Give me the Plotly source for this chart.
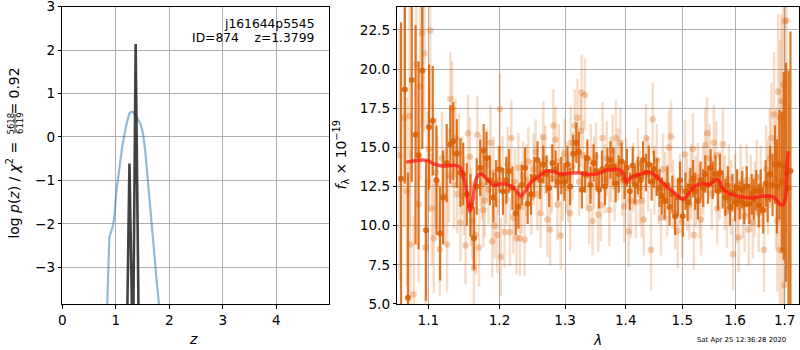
import plotly.graph_objects as go

FONT = "DejaVu Sans"

# ---------------- left panel: log p(z) ----------------
pz_z = [0.820, 0.838, 0.860, 0.880, 0.905, 0.930, 0.955, 0.980, 1.006, 1.050, 1.093,
        1.120, 1.155, 1.200, 1.255, 1.300, 1.330, 1.361, 1.410, 1.455, 1.490, 1.517,
        1.550, 1.580, 1.642, 1.704, 1.768, 1.811, 1.830]
pz_logp = [-4.6, -3.86, -2.90, -2.30, -2.20, -2.12, -1.99, -1.75, -1.30, -0.85, -0.38,
           -0.22, 0.01, 0.30, 0.545, 0.582, 0.570, 0.506, 0.420, 0.315, 0.180, 0.007,
           -0.32, -0.76, -1.53, -2.45, -3.37, -3.91, -4.6]

chi_z = [1.190, 1.217, 1.255, 1.300, 1.315, 1.330, 1.371, 1.423, 1.450]
chi_logp = [-5.0, -3.85, -0.61, -3.85, -3.70, -3.85, 2.14, -3.85, -5.0]

z_ticks = [0, 1, 2, 3, 4]
logp_ticks = [-3, -2, -1, 0, 1, 2, 3]

# ---------------- right panel: spectrum ----------------
dark_wave = [
    1.064, 1.069, 1.073, 1.078, 1.083, 1.087, 1.092, 1.097, 1.101, 1.106,
    1.111, 1.116, 1.120, 1.125, 1.130, 1.134, 1.139, 1.144, 1.148, 1.153,
    1.158, 1.163, 1.167, 1.172, 1.177, 1.181, 1.186, 1.191, 1.195, 1.200,
    1.205, 1.210, 1.214, 1.219, 1.224, 1.228, 1.233, 1.238, 1.242, 1.247,
    1.252, 1.257, 1.261, 1.266, 1.271, 1.275, 1.280, 1.285, 1.289, 1.294,
    1.299, 1.304, 1.308, 1.313, 1.318, 1.322, 1.327, 1.332, 1.336, 1.341,
    1.346, 1.351, 1.355, 1.360, 1.365, 1.369, 1.374, 1.379, 1.383, 1.388,
    1.393, 1.398, 1.402, 1.407, 1.412, 1.416, 1.421, 1.426, 1.430, 1.435,
    1.440, 1.445, 1.449, 1.454, 1.459, 1.463, 1.468, 1.473, 1.477, 1.482,
    1.487, 1.492, 1.496, 1.501, 1.506, 1.510, 1.515, 1.520, 1.524, 1.529,
    1.534, 1.539, 1.543, 1.548, 1.553, 1.557, 1.562, 1.567, 1.571, 1.576,
    1.581, 1.586, 1.590, 1.595, 1.600, 1.604, 1.609, 1.614, 1.618, 1.623,
    1.628, 1.633, 1.637, 1.642, 1.647, 1.651, 1.656, 1.661, 1.665, 1.670,
    1.675, 1.680, 1.684, 1.689, 1.694, 1.698, 1.703, 1.708, 1.712]
dark_flux = [
    13.0, 18.7, 5.4, 19.3, 15.8, 14.5, 19.9, 9.7, 16.3, 16.7,
    12.9, 9.5, 11.8, 14.0, 15.2, 15.4, 14.6, 13.4, 13.3, 12.0,
    11.3, 9.2, 12.5, 13.7, 14.8, 14.3, 12.9, 11.8, 12.7, 13.6,
    12.2, 12.9, 13.5, 12.4, 10.8, 11.2, 12.6, 13.7, 11.4, 12.0,
    13.1, 14.2, 12.9, 13.9, 13.3, 12.4, 14.0, 13.6, 12.8, 13.2,
    12.8, 13.9, 12.5, 14.6, 15.3, 14.7, 12.3, 13.3, 14.3, 12.6,
    14.0, 13.5, 12.3, 13.6, 12.5, 13.8, 14.2, 13.8, 12.7, 13.3,
    14.1, 12.9, 13.7, 12.2, 13.85, 12.6, 13.2, 12.9, 14.2, 13.4,
    13.9, 12.8, 13.6, 13.1, 12.4, 11.9, 11.6, 12.6, 11.2, 12.0,
    10.6, 11.8, 12.9, 10.6, 12.2, 11.5, 12.5, 13.0, 12.2, 11.6,
    12.9, 12.4, 13.3, 12.6, 13.7, 12.9, 13.3, 12.2, 13.4, 12.3,
    11.8, 12.6, 11.2, 12.1, 11.5, 12.4, 11.6, 12.3, 11.4, 12.5,
    11.4, 12.0, 11.7, 12.25, 11.3, 12.2, 11.0, 12.7, 11.8, 13.3,
    12.6, 13.9, 12.5, 13.9, 12.8, 13.8, 13.4, 12.4, 13.5]
dark_err = [
    10.0, 6.0, 8.0, 6.5, 7.0, 6.0, 5.0, 4.5, 4.0, 3.5,
    3.5, 3.0, 3.0, 2.5, 2.5, 2.5, 2.2, 2.2, 2.0, 2.0,
    2.0, 2.0, 1.8, 1.8, 1.7, 1.7, 1.6, 1.6, 1.5, 1.5,
    1.5, 1.5, 1.4, 1.4, 1.4, 1.4, 1.3, 1.3, 1.3, 1.3,
    1.3, 1.2, 1.2, 1.2, 1.2, 1.2, 1.2, 1.2, 1.2, 1.2,
    1.2, 1.2, 1.2, 1.2, 1.3, 1.3, 1.2, 1.2, 1.2, 1.2,
    1.2, 1.2, 1.2, 1.2, 1.2, 1.2, 1.2, 1.2, 1.2, 1.2,
    1.2, 1.2, 1.2, 1.2, 1.2, 1.2, 1.2, 1.2, 1.2, 1.2,
    1.2, 1.2, 1.2, 1.2, 1.2, 1.2, 1.2, 1.2, 1.2, 1.2,
    1.2, 1.2, 1.2, 1.3, 1.2, 1.2, 1.2, 1.2, 1.2, 1.2,
    1.2, 1.2, 1.2, 1.2, 1.2, 1.2, 1.2, 1.2, 1.2, 1.2,
    1.2, 1.2, 1.2, 1.2, 1.2, 1.2, 1.2, 1.2, 1.3, 1.3,
    1.3, 1.3, 1.3, 1.3, 1.4, 1.4, 1.5, 1.5, 1.6, 1.8,
    2.0, 2.5, 3.0, 3.5, 4.5, 6.0, 7.0, 7.5, 8.9]

light_wave = [
    1.0620, 1.0680, 1.0717, 1.0752, 1.0760, 1.0805, 1.0839, 1.0871, 1.0893, 1.0916,
    1.0946, 1.0960, 1.0990, 1.1010, 1.1027, 1.1050, 1.1073, 1.1100, 1.1125, 1.1155,
    1.1185, 1.1218, 1.1255, 1.1280, 1.1301, 1.1325, 1.1350, 1.1371, 1.1395, 1.1419,
    1.1441, 1.1465, 1.1490, 1.1512, 1.1546, 1.1574, 1.1590, 1.1607, 1.1630, 1.1654,
    1.1679, 1.1703, 1.1725, 1.1745, 1.1765, 1.1784, 1.1810, 1.1840, 1.1868, 1.1893,
    1.1910, 1.1927, 1.1966, 1.1985, 1.2006, 1.2020, 1.2045, 1.2074, 1.2100, 1.2120,
    1.2153, 1.2173, 1.2203, 1.2230, 1.2252, 1.2280, 1.2303, 1.2330, 1.2350, 1.2373,
    1.2400, 1.2430, 1.2475, 1.2510, 1.2540, 1.2568, 1.2618, 1.2640, 1.2660, 1.2690,
    1.2722, 1.2764, 1.2790, 1.2816, 1.2848, 1.2879, 1.2900, 1.2931, 1.2960, 1.2990,
    1.3020, 1.3050, 1.3081, 1.3091, 1.3120, 1.3156, 1.3199, 1.3225, 1.3252, 1.3264,
    1.3290, 1.3318, 1.3350, 1.3389, 1.3415, 1.3443, 1.3470, 1.3500, 1.3538, 1.3581,
    1.3610, 1.3640, 1.3680, 1.3722, 1.3750, 1.3777, 1.3810, 1.3833, 1.3870, 1.3908,
    1.3940, 1.3976, 1.4010, 1.4050, 1.4089, 1.4130, 1.4176, 1.4210, 1.4240, 1.4275,
    1.4311, 1.4351, 1.4390, 1.4439, 1.4469, 1.4500, 1.4540, 1.4580, 1.4617, 1.4650,
    1.4690, 1.4725, 1.4760, 1.4797, 1.4830, 1.4870, 1.4918, 1.4960, 1.5000, 1.5053,
    1.5090, 1.5130, 1.5160, 1.5196, 1.5215, 1.5250, 1.5290, 1.5320, 1.5351, 1.5390,
    1.5427, 1.5464, 1.5510, 1.5550, 1.5592, 1.5636, 1.5655, 1.5700, 1.5764, 1.5800,
    1.5840, 1.5880, 1.5920, 1.5959, 1.6000, 1.6040, 1.6071, 1.6110, 1.6150, 1.6190,
    1.6230, 1.6270, 1.6310, 1.6350, 1.6390, 1.6430, 1.6470, 1.6510, 1.6577, 1.6620,
    1.6659, 1.6693, 1.6726, 1.6781, 1.6820, 1.6849, 1.6864, 1.6899, 1.6905, 1.6932,
    1.6950, 1.6968, 1.6990, 1.7003, 1.7036]
light_flux = [
    14.5, 16.9, 12.2, 17.0, 8.8, 5.6, 20.3, 11.35, 18.9, 22.3,
    21.0, 8.6, 12.8, 14.9, 22.46, 11.1, 9.2, 13.4, 12.7, 8.5,
    14.3, 11.9, 8.8, 13.2, 18.1, 17.5, 12.6, 15.6, 12.0, 14.66,
    10.2, 13.2, 11.9, 8.74, 15.9, 14.4, 11.2, 10.3, 7.3, 9.4,
    15.8, 8.6, 13.5, 12.6, 11.0, 11.6, 13.9, 12.3, 15.3, 9.0,
    13.4, 10.0, 9.4, 12.9, 17.44, 8.0, 13.5, 9.6, 12.2, 13.9,
    9.6, 15.6, 10.5, 12.8, 9.2, 13.7, 9.2, 11.8, 13.2, 9.1,
    12.9, 14.1, 11.8, 13.6, 14.7, 12.0, 10.8, 13.4, 15.66, 14.2,
    10.4, 9.75, 13.0, 16.4, 15.5, 11.35, 14.1, 9.38, 12.6, 14.6,
    13.1, 12.4, 10.8, 15.3, 13.8, 16.4, 16.9, 12.8, 16.05, 18.5,
    14.5, 18.35, 13.2, 11.1, 14.1, 10.3, 13.4, 14.4, 10.7, 11.3,
    15.6, 13.0, 14.3, 11.0, 13.6, 14.8, 12.5, 15.6, 13.9, 15.3,
    12.8, 11.24, 13.5, 9.63, 11.6, 13.1, 11.5, 14.0, 12.4, 11.6,
    10.4, 15.6, 13.3, 8.46, 16.8, 12.9, 14.2, 12.2, 10.5, 13.6,
    12.5, 11.6, 15.0, 15.7, 12.0, 10.8, 9.68, 12.4, 10.2, 14.55,
    12.0, 11.3, 12.8, 14.9, 9.4, 12.2, 13.1, 11.6, 10.4, 12.9,
    15.15, 15.9, 14.3, 12.0, 15.3, 14.5, 11.1, 12.6, 15.2, 12.1,
    10.9, 13.0, 11.8, 8.18, 12.4, 11.2, 9.25, 12.8, 11.5, 10.6,
    12.9, 9.75, 12.2, 10.2, 11.7, 13.1, 10.8, 12.5, 8.46, 13.6,
    12.4, 14.3, 15.6, 17.1, 13.0, 10.3, 18.57, 8.46, 16.9, 17.97,
    8.4, 19.0, 6.2, 23.05, 23.1]
light_err = [
    8.0, 7.0, 6.0, 7.0, 6.0, 5.0, 6.0, 5.0, 6.0, 6.0,
    5.0, 4.0, 4.5, 4.0, 5.0, 3.5, 3.5, 3.5, 3.0, 3.0,
    3.0, 3.0, 3.0, 3.0, 3.0, 3.0, 2.8, 2.5, 2.5, 2.5,
    2.5, 2.5, 2.5, 2.5, 2.5, 2.5, 2.5, 2.5, 2.5, 2.5,
    2.5, 2.5, 2.3, 2.2, 2.4, 2.3, 2.3, 2.2, 2.4, 2.3,
    2.3, 2.1, 2.4, 2.2, 2.3, 2.5, 2.2, 2.3, 2.1, 2.4,
    2.2, 2.4, 2.3, 2.1, 2.3, 2.2, 2.4, 2.3, 2.2, 2.3,
    2.3, 2.2, 2.4, 2.3, 2.1, 2.3, 2.2, 2.4, 2.3, 2.2,
    2.4, 2.3, 2.2, 2.3, 2.1, 2.3, 2.4, 2.2, 2.3, 2.2,
    2.3, 2.2, 2.4, 2.3, 2.2, 2.3, 2.5, 2.2, 2.3, 2.4,
    2.2, 2.3, 2.1, 2.3, 2.4, 2.2, 2.3, 2.2, 2.4, 2.3,
    2.3, 2.2, 2.4, 2.3, 2.1, 2.3, 2.2, 2.4, 2.3, 2.2,
    2.2, 2.3, 2.1, 2.3, 2.4, 2.2, 2.3, 2.2, 2.4, 2.3,
    2.3, 2.2, 2.4, 2.6, 2.3, 2.2, 2.3, 2.1, 2.4, 2.3,
    2.2, 2.3, 2.4, 2.3, 2.2, 2.3, 2.4, 2.2, 2.3, 2.2,
    2.3, 2.2, 2.4, 2.3, 2.2, 2.3, 2.2, 2.4, 2.3, 2.2,
    2.4, 2.3, 2.2, 2.3, 2.4, 2.2, 2.3, 2.2, 2.3, 2.4,
    2.3, 2.2, 2.4, 2.3, 2.2, 2.3, 2.2, 2.4, 2.3, 2.3,
    2.3, 2.3, 2.3, 2.3, 2.4, 2.4, 2.5, 2.6, 2.7, 2.8,
    3.0, 3.2, 3.5, 4.0, 4.5, 4.5, 5.0, 5.0, 5.0, 5.5,
    6.0, 6.0, 7.0, 7.0, 8.0]

model_wave = [
    1.0707, 1.0849, 1.0982, 1.1095, 1.1210, 1.1370, 1.1440, 1.1488, 1.1535, 1.1572,
    1.1605, 1.1652, 1.1705, 1.1748, 1.1821, 1.1918, 1.2015, 1.2114, 1.2214, 1.2313,
    1.2364, 1.2465, 1.2594, 1.2696, 1.2801, 1.2911, 1.3038, 1.3199, 1.3362, 1.3527,
    1.3665, 1.3806, 1.3891, 1.3965, 1.4016, 1.4090, 1.4241, 1.4412, 1.4529, 1.4679,
    1.4860, 1.5012, 1.5104, 1.5228, 1.5384, 1.5511, 1.5637, 1.5708, 1.5733, 1.5863,
    1.6059, 1.6323, 1.6524, 1.6728, 1.6831, 1.6901, 1.6970, 1.7026, 1.7053, 1.7074]
model_flux = [
    14.06, 14.17, 14.17, 13.91, 13.80, 13.85, 13.70, 13.06, 12.00, 10.92,
    11.35, 12.84, 13.27, 13.27, 12.95, 12.56, 12.67, 12.63, 12.41, 11.88,
    12.09, 12.74, 13.16, 13.48, 13.48, 13.31, 13.33, 13.38, 13.27, 13.31,
    13.53, 13.59, 13.59, 13.27, 12.74, 13.10, 13.27, 13.42, 13.16, 12.63,
    12.09, 11.67, 11.99, 12.52, 12.67, 12.63, 12.95, 12.80, 12.52, 12.09,
    11.88, 11.77, 11.88, 11.88, 11.67, 11.35, 11.35, 11.99, 14.12, 14.76]

wave_ticks = [1.1, 1.2, 1.3, 1.4, 1.5, 1.6, 1.7]
wave_ticktext = ["1.1", "1.2", "1.3", "1.4", "1.5", "1.6", "1.7"]
flux_ticks = [5.0, 7.5, 10.0, 12.5, 15.0, 17.5, 20.0, 22.5]
flux_ticktext = ["5.0", "7.5", "10.0", "12.5", "15.0", "17.5", "20.0", "22.5"]

ORANGE_DARK = "rgba(217,95,2,0.85)"
ORANGE_LIGHT_BAR = "rgba(217,95,2,0.22)"
ORANGE_LIGHT_PT = "rgba(217,95,2,0.30)"

fig = go.Figure()

fig.add_trace(go.Scatter(x=pz_z, y=pz_logp, mode="lines", xaxis="x", yaxis="y",
                         line=dict(color="rgba(31,119,180,0.5)", width=2.2),
                         hoverinfo="skip", showlegend=False))
fig.add_trace(go.Scatter(x=chi_z, y=chi_logp, mode="lines", xaxis="x", yaxis="y",
                         line=dict(color="rgba(40,40,40,0.88)", width=2.6),
                         hoverinfo="skip", showlegend=False))

fig.add_trace(go.Scatter(x=light_wave, y=light_flux, mode="markers", xaxis="x2", yaxis="y2",
                         marker=dict(color=ORANGE_LIGHT_PT, size=6.5, line=dict(width=0)),
                         error_y=dict(type="data", array=light_err, visible=True,
                                      color=ORANGE_LIGHT_BAR, thickness=2.5, width=0),
                         hoverinfo="skip", showlegend=False))
fig.add_trace(go.Scatter(x=dark_wave, y=dark_flux, mode="markers", xaxis="x2", yaxis="y2",
                         marker=dict(color=ORANGE_DARK, size=6, line=dict(width=0)),
                         error_y=dict(type="data", array=dark_err, visible=True,
                                      color=ORANGE_DARK, thickness=2.2, width=0),
                         hoverinfo="skip", showlegend=False))
fig.add_trace(go.Scatter(x=model_wave, y=model_flux, mode="lines", xaxis="x2", yaxis="y2",
                         line=dict(color="rgba(255,20,20,0.72)", width=3.5, shape="spline",
                                   smoothing=0.6),
                         hoverinfo="skip", showlegend=False))

axis_common = dict(showline=True, linecolor="black", linewidth=1, mirror=True,
                   ticks="outside", ticklen=3.5, tickwidth=0.9, tickcolor="black",
                   showgrid=True, gridcolor="#b0b0b0", gridwidth=1, zeroline=False,
                   tickfont=dict(family=FONT, size=13.6, color="black"),
                   automargin=False, ticklabeloverflow="allow")

ydom = [1 - 304 / 350, 1 - 6.5 / 350]

fig.update_layout(
    width=800, height=350,
    margin=dict(l=0, r=0, t=0, b=0),
    paper_bgcolor="white", plot_bgcolor="white",
    font=dict(family=FONT, color="black"),
    xaxis=dict(domain=[62.3 / 800, 329.3 / 800], range=[0, 4.99], tickvals=z_ticks,
               anchor="y", **axis_common),
    yaxis=dict(domain=ydom, range=[-3.846, 3.003], tickvals=logp_ticks,
               anchor="x", **axis_common),
    xaxis2=dict(domain=[397.3 / 800, 799 / 800], type="log", range=[0.02495, 0.23804],
                tickvals=wave_ticks, ticktext=wave_ticktext, anchor="y2", **axis_common),
    yaxis2=dict(domain=ydom, range=[4.997, 24.0], tickvals=flux_ticks,
                ticktext=flux_ticktext, anchor="x2", **axis_common),
)

ann = []
def A(text, x, y, size, xanchor="center", yanchor="middle", angle=0):
    ann.append(dict(text=text, x=x / 800, y=1 - y / 350, xref="paper", yref="paper",
                    xanchor=xanchor, yanchor=yanchor, showarrow=False, textangle=angle,
                    font=dict(family=FONT, size=size, color="black")))

A("j161644p5545", 315.5, 24, 12.3, xanchor="right")
A("ID=874    z=1.3799", 315.5, 38.5, 12.3, xanchor="right")
A("<i>z</i>", 193.5, 339, 14)
A("<i>λ</i>", 597.5, 340, 14)
A("Sat Apr 25 12:36:28 2020", 787.5, 340, 6.9, xanchor="right")
# left y label
A("log <i>p</i>(<i>z</i>) / <i>χ</i><sup>2</sup> =", 13.5, 190, 13.9, angle=-90)
A("5618", 10, 123.5, 8.5, angle=-90)
A("6119", 19.5, 123.5, 8.5, angle=-90)
A("= 0.92", 13.5, 91, 13.9, angle=-90)
# right y label
A("<i>f</i><sub>λ</sub> × 10<sup>−19</sup>", 341, 155.5, 13.9, angle=-90)

fig.update_layout(annotations=ann)
fig.add_shape(type="line", xref="paper", yref="paper",
              x0=15 / 800, x1=15 / 800, y0=1 - 114 / 350, y1=1 - 133 / 350,
              line=dict(color="black", width=0.8))

fig.write_html("out.html", config=dict(displayModeBar=False),
               post_script="document.body.style.margin='0';document.body.style.overflow='hidden';")
